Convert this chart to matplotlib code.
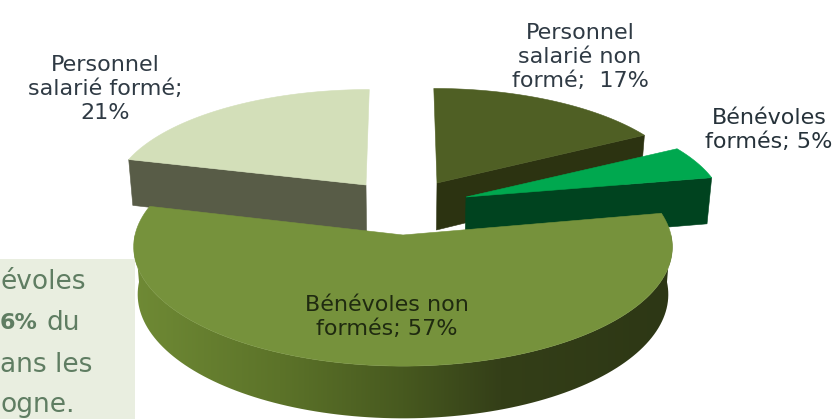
import numpy as np
import matplotlib
matplotlib.use("Agg")
import matplotlib.pyplot as plt
from matplotlib.patches import Polygon, Rectangle
from matplotlib.colors import LinearSegmentedColormap

# --- data ---
categories = ["Personnel\nsalarié non\nformé;  17%", "Bénévoles\nformés; 5%",
              "Bénévoles non\nformés; 57%", "Personnel\nsalarié formé;\n21%"]
shares = [17, 5, 57, 21]
top_colors = ["#4f5f24", "#00a84f", "#76923c", "#d3dfb9"]
face_colors = ["#2c3311", "#00431f", "#5f7a2e", "#585c47"]
# apex x, apex y, radius x, radius y of each exploded slice
apex = [(437, 183, 250, 104), (466, 197, 256, 105), (403, 235, 268, 118), (366, 185, 252, 105)]
label_pos = [(580, 57), (769, 130), (387, 317), (105, 89)]
wall_stops = [(0.0, "#6f8a35"), (0.27, "#5c7329"), (0.5, "#47591f"), (0.68, "#343f18"), (1.0, "#2d3715")]
note_lines = ["évoles", "du", "ans les", "ogne."]

VX, P, DEPTH = 402.0, 0.10, 47.0

plt.rcParams["font.family"] = ["DejaVu Sans"]
fig = plt.figure(figsize=(8.36, 4.19), dpi=100)
ax = fig.add_axes([0, 0, 1, 1])
ax.set_xlim(0, 836)
ax.set_ylim(419, 0)
ax.axis("off")


def project(a, theta, r=1.0, low=False):
    ax0, ay0, rx, ry = a
    w = 1.0 / (1.0 + P * r * np.cos(theta))
    x = VX + (ax0 - VX) * w + rx * r * np.sin(theta) * w
    y = ay0 - ry * r * np.cos(theta) * w
    if low:
        x = VX + (x - VX) * 0.985
        y = y + DEPTH * w
    return x, y


def arc(a, t0, t1, low=False, n=120):
    t = np.linspace(t0, t1, n)
    return np.column_stack(project(a, t, 1.0, low))


edges = np.cumsum([0] + shares) / sum(shares) * 2 * np.pi

# note box behind the pie
ax.add_patch(Rectangle((0, 259), 135, 160, fc="#e9eee0", ec="none", zorder=0))
note_color = "#5f7d62"
NOTE_SIZE = 19
for line, y in zip(note_lines, [282, 323, 365, 405]):
    if line == "du":
        ax.text(0, y, "6%", fontsize=16, fontweight="bold", color=note_color, va="center", ha="left", zorder=1)
        ax.text(47, y, line, fontsize=NOTE_SIZE, color=note_color, va="center", ha="left", zorder=1)
    else:
        ax.text(0, y, line, fontsize=NOTE_SIZE, color=note_color, va="center", ha="left", zorder=1)

# draw back to front: back right, back left, exploded, front
for z, i in enumerate([0, 3, 1, 2]):
    a = apex[i]
    t0, t1 = edges[i], edges[i + 1]
    base = 2 + z * 2
    top = arc(a, t0, t1)
    apex_pt = np.array(project(a, 0, 0.0))
    apex_low = np.array(project(a, 0, 0.0, True))
    if i in (0, 1):  # cut face at the end of the slice faces the viewer
        p_hi = np.array(project(a, t1))
        p_lo = np.array(project(a, t1, 1.0, True))
        ax.add_patch(Polygon([apex_pt, p_hi, p_lo, apex_low], fc=face_colors[i], ec=face_colors[i], lw=0.4, zorder=base))
    if i == 3:
        p_hi = np.array(project(a, t0))
        p_lo = np.array(project(a, t0, 1.0, True))
        ax.add_patch(Polygon([apex_pt, p_hi, p_lo, apex_low], fc=face_colors[i], ec=face_colors[i], lw=0.4, zorder=base))
    if i == 2:  # outer wall with gradient: only the front half of the rim is visible
        front = np.vstack([arc(a, np.pi / 2, 3 * np.pi / 2), arc(a, np.pi / 2, 3 * np.pi / 2, True)[::-1]])
        poly = Polygon(front, fc="none", ec="none", transform=ax.transData)
        ax.add_patch(poly)
        cmap = LinearSegmentedColormap.from_list("wall", wall_stops)
        xl, xr = front[:, 0].min(), front[:, 0].max()
        im = ax.imshow(np.linspace(0, 1, 256)[None, :], cmap=cmap, aspect="auto",
                       extent=(xl, xr, 419, 230), zorder=base, interpolation="bilinear")
        im.set_clip_path(poly)
        ax.set_xlim(0, 836)
        ax.set_ylim(419, 0)
    ax.add_patch(Polygon(np.vstack([apex_pt, top]), fc=top_colors[i], ec=top_colors[i], lw=0.4, zorder=base + 1))

text_colors = ["#2f3a44", "#26323a", "#1f2a10", "#2f3a44"]
for cat, (x, y), c in zip(categories, label_pos, text_colors):
    ax.text(x, y, cat, ha="center", va="center", fontsize=16, color=c, linespacing=1.25, zorder=20)

fig.savefig("out.png", dpi=100)
